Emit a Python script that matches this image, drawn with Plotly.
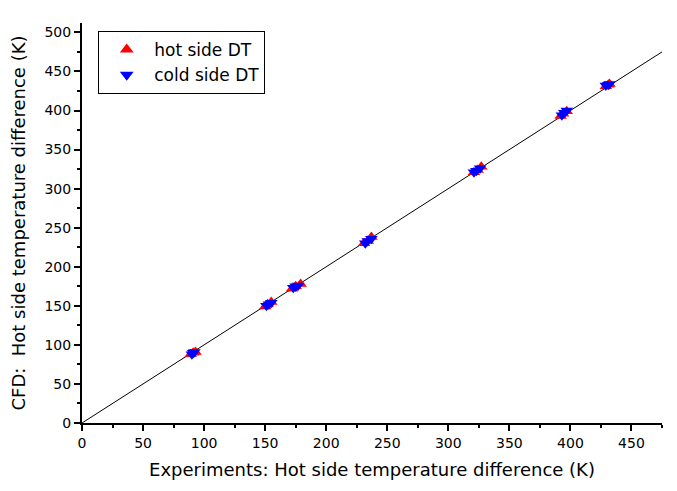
import plotly.graph_objects as go

hot_exp = [89, 91, 93, 150, 152, 155, 172, 175, 179, 231, 234, 237, 321, 324, 327, 392, 394, 397, 429, 431, 432]
hot_cfd = [88, 90, 91, 149, 152, 155, 172, 175, 178, 230, 233, 238, 321, 324, 328, 393, 396, 399, 431, 433, 434]
cold_exp = [90, 91, 92, 151, 153, 155, 173, 175, 177, 232, 234, 237, 321, 323, 326, 393, 395, 397, 429, 431, 432]
cold_cfd = [88, 90, 91, 150, 152, 154, 173, 175, 176, 230, 233, 236, 321, 323, 326, 394, 397, 400, 432, 433, 434]
line_x = [0, 475]
line_y = [0, 475]

FONT = "DejaVu Sans"

fig = go.Figure()
fig.add_trace(go.Scatter(x=line_x, y=line_y, mode="lines",
                         line=dict(color="black", width=1), showlegend=False))
fig.add_trace(go.Scatter(x=hot_exp, y=hot_cfd, mode="markers", name="hot side DT",
                         marker=dict(symbol="triangle-up", color="#ff0000", size=11)))
fig.add_trace(go.Scatter(x=cold_exp, y=cold_cfd, mode="markers", name="cold side DT",
                         marker=dict(symbol="triangle-down", color="#0000ff", size=11)))

axis_common = dict(
    showline=True, linecolor="black", linewidth=2, showgrid=False, zeroline=False,
    ticks="outside", ticklen=6, tickwidth=2, tickcolor="black",
    tickfont=dict(family=FONT, size=14, color="black"),
    minor=dict(ticks="outside", ticklen=3, tickwidth=2, tickcolor="black", dtick=25),
    dtick=50, tick0=0, automargin=False,
)
fig.update_xaxes(range=[0, 475], title=dict(text="Experiments: Hot side temperature difference (K)",
                 font=dict(family=FONT, size=18, color="black"), standoff=14),
                 **axis_common)
fig.update_yaxes(range=[0, 512], title=dict(text="CFD:  Hot side temperature difference (K)",
                 font=dict(family=FONT, size=18, color="black"), standoff=23),
                 **axis_common)
fig.update_layout(
    width=669, height=483,
    margin=dict(l=74, r=15, t=15, b=68),
    plot_bgcolor="white", paper_bgcolor="white",
    legend=dict(x=0.028, y=0.98, xanchor="left", yanchor="top",
                bordercolor="black", borderwidth=1, bgcolor="white",
                font=dict(family=FONT, size=17, color="black"),
                itemsizing="constant", itemwidth=45, tracegroupgap=0),
)
fig.write_html("out.html")
